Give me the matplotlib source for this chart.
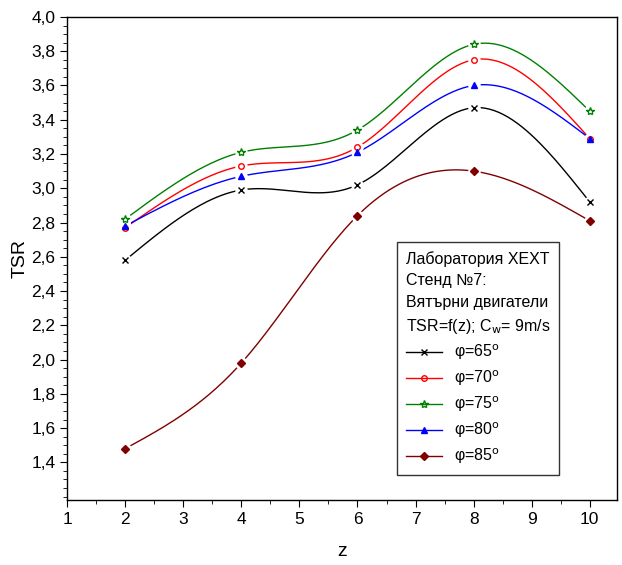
import numpy as np
import matplotlib
matplotlib.use("Agg")
import matplotlib.pyplot as plt
from matplotlib.ticker import MultipleLocator, FuncFormatter

plt.rcParams['font.family'] = ['Liberation Sans', 'DejaVu Sans']

z = [2, 4, 6, 8, 10]
tsr_65 = [2.58, 2.99, 3.02, 3.47, 2.92]
tsr_70 = [2.77, 3.13, 3.24, 3.75, 3.29]
tsr_75 = [2.82, 3.21, 3.34, 3.84, 3.45]
tsr_80 = [2.78, 3.07, 3.21, 3.60, 3.29]
tsr_85 = [1.48, 1.98, 2.84, 3.10, 2.81]
labels = ['φ=65$^\\mathrm{o}$', 'φ=70$^\\mathrm{o}$', 'φ=75$^\\mathrm{o}$',
          'φ=80$^\\mathrm{o}$', 'φ=85$^\\mathrm{o}$']
series = [tsr_65, tsr_70, tsr_75, tsr_80, tsr_85]
colors = ['#000000', '#ff0000', '#008000', '#0000ff', '#800000']
markers = ['x', 'o', '*', '^', 'D']
msizes = [5, 4, 6, 5, 4.5]


def natural_spline(x, y, n=200):
    x = np.asarray(x, float); y = np.asarray(y, float)
    k = len(x)
    h = np.diff(x)
    A = np.zeros((k, k)); b = np.zeros(k)
    A[0, 0] = 1; A[-1, -1] = 1
    for i in range(1, k - 1):
        A[i, i - 1] = h[i - 1]
        A[i, i] = 2 * (h[i - 1] + h[i])
        A[i, i + 1] = h[i]
        b[i] = 3 * ((y[i + 1] - y[i]) / h[i] - (y[i] - y[i - 1]) / h[i - 1])
    c = np.linalg.solve(A, b)
    xs = np.linspace(x[0], x[-1], n)
    ys = np.empty_like(xs)
    for j, xv in enumerate(xs):
        i = min(np.searchsorted(x, xv, side='right') - 1, k - 2)
        dx = xv - x[i]
        bi = (y[i + 1] - y[i]) / h[i] - h[i] * (2 * c[i] + c[i + 1]) / 3
        di = (c[i + 1] - c[i]) / (3 * h[i])
        ys[j] = y[i] + bi * dx + c[i] * dx ** 2 + di * dx ** 3
    return xs, ys


fig = plt.figure(figsize=(6.22, 5.65), dpi=100)
ax = fig.add_axes([0.108, 0.115, 0.884, 0.855])

handles = []
for ys, col, mk, ms, lab in zip(series, colors, markers, msizes, labels):
    xs, yy = natural_spline(z, ys)
    ax.plot(xs, yy, color=col, lw=1.0, zorder=2)
    ax.plot(z, ys, linestyle='none', marker='o', ms=9, mfc='white', mec='none', zorder=3)
    mfc = 'none' if mk in ('o', '*') else col
    ax.plot(z, ys, linestyle='none', marker=mk, ms=ms, mfc=mfc, mec=col,
            mew=1.0, zorder=4)
    handles.append(plt.Line2D([], [], color=col, lw=1.0, marker=mk, ms=ms,
                              mfc=mfc, mec=col, label=lab))

ax.set_xlim(1, 10.47)
ax.set_ylim(1.18, 4.0)
ax.xaxis.set_major_locator(MultipleLocator(1))
ax.xaxis.set_minor_locator(MultipleLocator(0.5))
ax.yaxis.set_minor_locator(MultipleLocator(0.05))
ax.yaxis.set_major_formatter(FuncFormatter(lambda v, p: ('%.1f' % v).replace('.', ',')))
ax.set_yticks([1.4 + 0.2 * i for i in range(14)])
ax.tick_params(which='major', direction='out', length=5, labelsize=12.5)
ax.tick_params(which='minor', direction='out', length=3)
ax.set_xlabel('z', fontsize=14, labelpad=12)
ax.set_ylabel('TSR', fontsize=14, labelpad=2)
for s in ax.spines.values():
    s.set_linewidth(1.0)

leg = ax.legend(handles=handles, loc='lower left', bbox_to_anchor=(0.585, 0.035),
                title='Лаборатория ХЕХТ\nСтенд №7:\nВятърни двигатели\nTSR=f(z); C$_\\mathrm{w}$= 9m/s',
                fontsize=11.5, title_fontsize=11.5, frameon=True, fancybox=False,
                edgecolor='black', handlelength=2.3, labelspacing=0.4,
                borderpad=0.55, handletextpad=0.7)
leg.get_frame().set_linewidth(1.0)
leg._legend_box.align = 'left'
leg.get_title().set_linespacing(1.55)

fig.savefig('out.png', dpi=100)
